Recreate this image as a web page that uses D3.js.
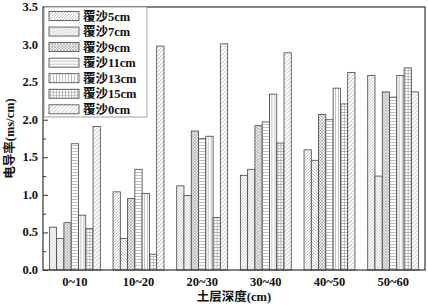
<!doctype html>
<html>
  <head>
    <meta charset="utf-8">
    <title>电导率 bar chart</title>
    <script src="https://d3js.org/d3.v7.min.js"></script>
    <style type="text/css">
      body { margin: 0; background: #fff; }
      text {
        font-family: "Liberation Serif", "Noto Sans CJK SC", serif;
        font-weight: bold;
        font-size: 12.5px;
        fill: #111;
      }
    </style>
  </head>
  <body>
    <svg></svg>
    <script type="text/javascript">
      var w = 428,
        h = 307;

      var groups = ['0~10', '10~20', '20~30', '30~40', '40~50', '50~60'];
      var series = ['覆沙5cm', '覆沙7cm', '覆沙9cm', '覆沙11cm', '覆沙13cm', '覆沙15cm', '覆沙0cm'];
      var yTicks = [0, 0.5, 1, 1.5, 2, 2.5, 3, 3.5];

      var sand5 = [0.57, 1.04, 1.12, 1.26, 1.60, 2.59];
      var sand7 = [0.42, 0.42, 0.99, 1.34, 1.46, 1.25];
      var sand9 = [0.63, 0.95, 1.85, 1.92, 2.07, 2.37];
      var sand11 = [1.68, 1.34, 1.75, 1.97, 2.00, 2.30];
      var sand13 = [0.73, 1.02, 1.78, 2.34, 2.42, 2.59];
      var sand15 = [0.55, 0.21, 0.70, 1.69, 2.21, 2.69];
      var sand0 = [1.91, 2.98, 3.01, 2.89, 2.63, 2.37];

      var values = [sand5, sand7, sand9, sand11, sand13, sand15, sand0];

      var margin = { left: 43, right: 3, top: 7, bottom: 37 };
      var pw = w - margin.left - margin.right,
        ph = h - margin.top - margin.bottom;

      var svg = d3.select('svg')
        .attr('width', w)
        .attr('height', h);

      // hatch patterns
      var defs = svg.append('defs');
      var lineCol = '#999';

      function addPattern(id, size, lines, bg) {
        var p = defs.append('pattern')
          .attr('id', id)
          .attr('patternUnits', 'userSpaceOnUse')
          .attr('width', size)
          .attr('height', size);
        p.append('rect').attr('width', size).attr('height', size).attr('fill', bg || '#fff');
        lines.forEach(function(l) {
          p.append('path')
            .attr('d', l)
            .attr('stroke', lineCol)
            .attr('stroke-width', 0.6)
            .attr('fill', 'none');
        });
      }

      addPattern('p0', 3, ['M-1,1 L1,-1 M0,3 L3,0 M2,4 L4,2']);
      addPattern('p1', 3, ['M-1,2 L1,4 M0,0 L3,3 M2,-1 L4,1']);
      addPattern('p2', 3, ['M0,0 L3,3 M3,0 L0,3'], '#f2f2f2');
      addPattern('p3', 3, ['M0,1.5 L3,1.5']);
      addPattern('p4', 3, ['M1.5,0 L1.5,3']);
      addPattern('p5', 3, ['M0,1.5 L3,1.5 M1.5,0 L1.5,3']);
      addPattern('p6', 4, ['M-1,1 L1,-1 M0,4 L4,0 M3,5 L5,3']);

      var x0 = d3.scaleBand()
        .domain(groups)
        .range([margin.left, margin.left + pw])
        .paddingInner(0.2)
        .paddingOuter(0.1);

      var x1 = d3.scaleBand()
        .domain(d3.range(series.length))
        .range([0, x0.bandwidth()]);

      var y = d3.scaleLinear()
        .domain([0, 3.5])
        .range([margin.top + ph, margin.top]);

      // bars
      var g = svg.selectAll('g.grp')
        .data(groups)
        .enter()
        .append('g')
        .attr('class', 'grp')
        .attr('transform', function(d) {
          return 'translate(' + x0(d) + ',0)';
        });

      g.selectAll('rect')
        .data(function(d, gi) {
          return values.map(function(v, si) {
            return { s: si, v: v[gi] };
          });
        })
        .enter()
        .append('rect')
        .attr('x', function(d) { return x1(d.s); })
        .attr('y', function(d) { return y(d.v); })
        .attr('width', x1.bandwidth())
        .attr('height', function(d) { return y(0) - y(d.v); })
        .attr('fill', function(d) { return 'url(#p' + d.s + ')'; })
        .attr('stroke', '#444')
        .attr('stroke-width', 0.8);

      // frame
      svg.append('rect')
        .attr('x', margin.left)
        .attr('y', margin.top)
        .attr('width', pw)
        .attr('height', ph)
        .attr('fill', 'none')
        .attr('stroke', '#333')
        .attr('stroke-width', 1.2);

      // y axis with inward ticks
      var yAxis = d3.axisRight(y)
        .tickValues(yTicks)
        .tickSize(5)
        .tickFormat('');
      svg.append('g')
        .attr('transform', 'translate(' + margin.left + ',0)')
        .call(yAxis)
        .call(function(a) {
          a.select('.domain').remove();
          a.selectAll('line').attr('stroke', '#333');
        });

      var minor = d3.axisRight(y)
        .tickValues(d3.range(0.25, 3.5, 0.5))
        .tickSize(3)
        .tickFormat('');
      svg.append('g')
        .attr('transform', 'translate(' + margin.left + ',0)')
        .call(minor)
        .call(function(a) {
          a.select('.domain').remove();
          a.selectAll('line').attr('stroke', '#333');
        });

      svg.selectAll('text.ytick')
        .data(yTicks)
        .enter()
        .append('text')
        .attr('class', 'ytick')
        .attr('x', margin.left - 5)
        .attr('y', function(d) { return y(d) + 4; })
        .attr('text-anchor', 'end')
        .text(function(d) { return d3.format('.1f')(d); });

      // x labels
      svg.selectAll('text.xtick')
        .data(groups)
        .enter()
        .append('text')
        .attr('class', 'xtick')
        .attr('x', function(d) { return x0(d) + x0.bandwidth() / 2; })
        .attr('y', margin.top + ph + 16)
        .attr('text-anchor', 'middle')
        .text(function(d) { return d; });

      // axis titles
      svg.append('text')
        .attr('x', margin.left + pw / 2)
        .attr('y', h - 6)
        .attr('text-anchor', 'middle')
        .text('土层深度(cm)');

      svg.append('text')
        .attr('transform', 'translate(14,' + (margin.top + ph / 2) + ') rotate(-90)')
        .attr('text-anchor', 'middle')
        .text('电导率(ms/cm)');

      // legend
      var lg = svg.append('g');
      lg.append('rect')
        .attr('x', 44)
        .attr('y', 7)
        .attr('width', 103)
        .attr('height', 110)
        .attr('fill', '#fff')
        .attr('stroke', '#888')
        .attr('stroke-width', 0.8);

      var item = lg.selectAll('g.item')
        .data(series)
        .enter()
        .append('g')
        .attr('class', 'item')
        .attr('transform', function(d, i) {
          return 'translate(49,' + (16 + i * 15.55) + ')';
        });

      item.append('rect')
        .attr('x', 0)
        .attr('y', -4.5)
        .attr('width', 30)
        .attr('height', 9)
        .attr('fill', function(d, i) { return 'url(#p' + i + ')'; })
        .attr('stroke', '#444')
        .attr('stroke-width', 0.8);

      item.append('text')
        .attr('x', 34)
        .attr('y', 4.5)
        .text(function(d) { return d; });
    </script>
  </body>
</html>
